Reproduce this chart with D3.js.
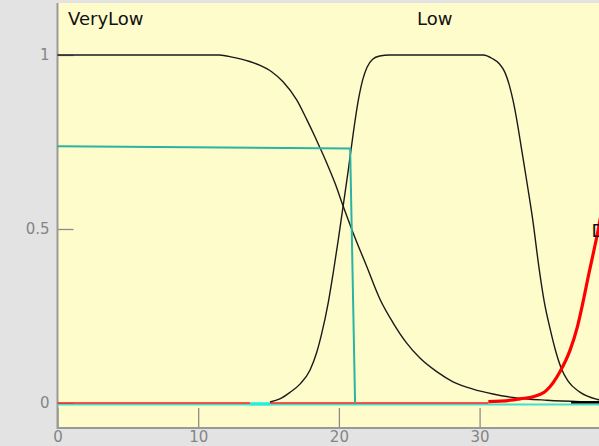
<!DOCTYPE html>
<html><head><meta charset="utf-8">
<script src="https://cdn.jsdelivr.net/npm/d3@7"></script>
<style>
html,body{margin:0;padding:0;background:#e3e3e3;overflow:hidden;}
svg{display:block;}
</style></head>
<body>
<svg id="c" width="599" height="446"></svg>
<script>
// ---- data ----
const xTicks = [0, 10, 20, 30];
const yTicks = [0, 0.5, 1];
const yTickLabels = ["0", "0.5", "1"];
const mfLabels = ["VeryLow", "Low", "D"];
const mfLabelX = [0.75, 25.55, 37.95];

const veryLowX = [0, 11.5, 12.5, 13.6, 14.4, 15.22, 16.03, 17.0, 17.71, 18.3, 18.66, 19.13, 19.72, 20.3, 21.02, 21.98, 22.92, 23.87, 24.82, 25.76, 26.95, 28.11, 29.53, 30.95, 32.37, 34.77, 37.14, 38.6];
const veryLowY = [1, 1, 0.993, 0.982, 0.97, 0.952, 0.923, 0.871, 0.815, 0.765, 0.733, 0.69, 0.632, 0.566, 0.488, 0.392, 0.298, 0.229, 0.172, 0.129, 0.09, 0.061, 0.040, 0.026, 0.016, 0.008, 0.004, 0.003];

const lowX = [15.1, 15.8, 16.5, 17.25, 17.95, 18.42, 18.78, 19.25, 19.6, 19.96, 20.3, 20.67, 21.02, 21.38, 21.7, 22.0, 22.4, 22.9, 23.6, 30.26, 30.9, 31.4, 31.8, 32.1, 32.4, 32.7, 33.0, 33.4, 33.8, 34.2, 34.6, 35.0, 35.4, 35.8, 36.3, 37.1, 38.4, 38.6];
const lowY = [0.003, 0.012, 0.03, 0.055, 0.095, 0.145, 0.2, 0.29, 0.375, 0.47, 0.566, 0.67, 0.775, 0.87, 0.93, 0.965, 0.988, 0.997, 1, 1, 0.99, 0.975, 0.95, 0.915, 0.865, 0.8, 0.725, 0.625, 0.52, 0.395, 0.29, 0.215, 0.15, 0.1, 0.062, 0.032, 0.01, 0.008];

const redX = [30.62, 32.4, 32.87, 33.82, 34.77, 35.71, 36.43, 36.95, 37.38, 37.73, 38.08, 38.44, 38.6];
const redY = [0.004, 0.009, 0.012, 0.018, 0.037, 0.09, 0.152, 0.219, 0.296, 0.365, 0.43, 0.5, 0.535];

const redBaseX = [[0, 13.7], [15.1, 30.62]];
const cyanBaseX = [0, 38.6];
const cyanGapX = [13.7, 15.1];
const blackTailX = [36.5, 38.6];
const blackTailY = [0.002, 0.002];

const outX = [0, 20.8, 21.15];
const outY = [0.738, 0.731, 0];

// ---- layout ----
const svg = d3.select("#c");
const plot = {left: 57.5, top: 3, right: 599, bottom: 428};
const x = d3.scaleLinear().domain([0, 38.6]).range([57.5, 57.5 + 38.6 * 14.07]);
const y = d3.scaleLinear().domain([0, 1]).range([403, 55]);

svg.append("rect").attr("x", plot.left).attr("y", plot.top)
  .attr("width", plot.right - plot.left).attr("height", plot.bottom - plot.top)
  .attr("fill", "#fffccc");

// axes
const gy = svg.append("g").attr("transform", `translate(${plot.left},0)`)
  .call(d3.axisLeft(y).tickValues(yTicks).tickSize(-16).tickPadding(8)
        .tickFormat((d, i) => yTickLabels[i]));
const gx = svg.append("g").attr("transform", `translate(0,${plot.bottom})`)
  .call(d3.axisBottom(x).tickValues(xTicks).tickSize(-20).tickPadding(3));
[gx, gy].forEach(g => {
  g.select(".domain").remove();
  g.selectAll(".tick line").attr("stroke", "#8c8c8c").attr("stroke-width", 1.3);
  g.selectAll(".tick text").attr("fill", "#858585")
    .style("font-family", "'DejaVu Sans', Verdana, sans-serif").style("font-size", "15px");
});
svg.append("line").attr("x1", plot.left).attr("x2", plot.left)
  .attr("y1", plot.top).attr("y2", plot.bottom + 1)
  .attr("stroke", "#999").attr("stroke-width", 2);
svg.append("line").attr("x1", plot.left).attr("x2", plot.right)
  .attr("y1", plot.bottom).attr("y2", plot.bottom)
  .attr("stroke", "#999").attr("stroke-width", 2);

const line = d3.line().x(d => x(d[0])).y(d => y(d[1]));
const smooth = d3.line().x(d => x(d[0])).y(d => y(d[1])).curve(d3.curveMonotoneX);
const zip = (a, b) => a.map((v, i) => [v, b[i]]);

// baselines
svg.append("path").datum(cyanBaseX.map(v => [v, 0])).attr("d", line)
  .attr("transform", "translate(0,1.5)")
  .attr("fill", "none").attr("stroke", "#3fe0cf").attr("stroke-width", 2);
redBaseX.forEach(seg => {
  svg.append("path").datum(seg.map(v => [v, 0])).attr("d", line)
    .attr("fill", "none").attr("stroke", "#ff1a1a").attr("stroke-width", 1.6);
});
svg.append("path").datum(cyanGapX.map(v => [v, 0])).attr("d", line)
  .attr("transform", "translate(0,0.8)")
  .attr("fill", "none").attr("stroke", "#22f0dc").attr("stroke-width", 3.2);

// membership curves
svg.append("path").datum(zip(veryLowX, veryLowY)).attr("d", smooth)
  .attr("fill", "none").attr("stroke", "#1a1a1a").attr("stroke-width", 1.4);
svg.append("path").datum(zip(lowX, lowY)).attr("d", smooth)
  .attr("fill", "none").attr("stroke", "#1a1a1a").attr("stroke-width", 1.4);
svg.append("path").datum(zip(blackTailX, blackTailY)).attr("d", line)
  .attr("fill", "none").attr("stroke", "#000").attr("stroke-width", 2.4);
svg.append("path").datum(zip(redX, redY)).attr("d", smooth)
  .attr("fill", "none").attr("stroke", "#ff0000").attr("stroke-width", 3.2);

// output line
svg.append("path").datum(zip(outX, outY)).attr("d", line)
  .attr("fill", "none").attr("stroke", "#2bb3a3").attr("stroke-width", 2);

// labels
svg.selectAll("text.mf").data(mfLabels).enter().append("text")
  .attr("class", "mf")
  .attr("x", (d, i) => x(mfLabelX[i]))
  .attr("y", (d, i) => i < 2 ? 25 : 237)
  .attr("fill", "#111")
  .style("font-family", "'DejaVu Sans', Verdana, sans-serif")
  .style("font-size", "18px")
  .text(d => d);
</script>
</body></html>
